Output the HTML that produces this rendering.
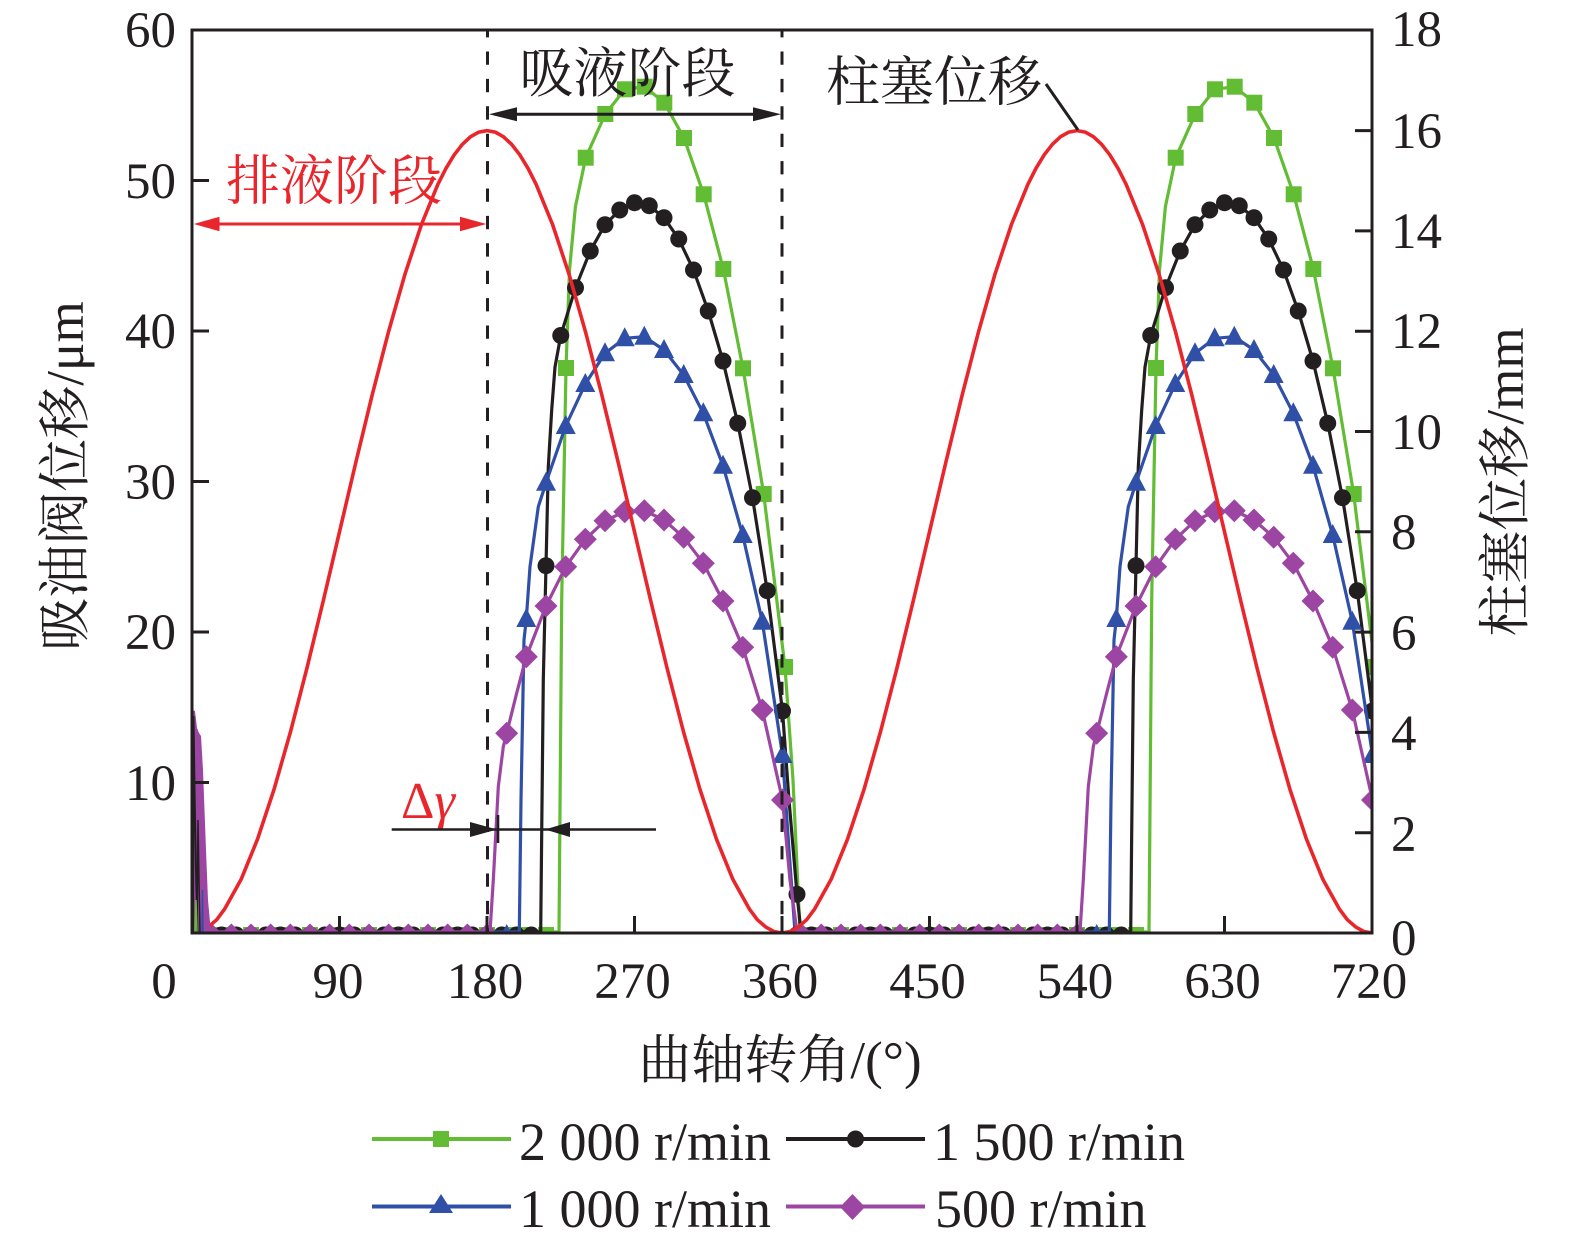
<!DOCTYPE html>
<html><head><meta charset="utf-8"><style>html,body{margin:0;padding:0;background:#fff}svg{display:block}</style></head>
<body>
<svg width="1575" height="1243" viewBox="0 0 1575 1243" xmlns="http://www.w3.org/2000/svg" xmlns:xlink="http://www.w3.org/1999/xlink">
<defs>
<clipPath id="pc"><rect x="192" y="30" width="1180" height="903"/></clipPath>
<rect id="sq" x="-8" y="-8" width="16" height="16" fill="#62bd34"/>
<circle id="ci" r="8.5" fill="#231f20"/>
<path id="tr" d="M0,-11L10,8L-10,8Z" fill="#3050a8"/>
<path id="di" d="M0,-11.5L11.5,0L0,11.5L-11.5,0Z" fill="#9c45a3"/>
<g id="cyc">
 <path d="M205 932 L559 932 L561.7 600 L566 368 L569.5 270 L575.4 206.7 L585.7 157.7 L605.3 114 L625 89.3 L644.7 86.7 L664.3 102.7 L684 138 L703.7 194.3 L723.3 269 L743 368.3 L763.7 494 L785 667 L793 780 L800 932" fill="none" stroke="#62bd34" stroke-width="3.2" stroke-linejoin="round"/>
 <g>
 <use href="#sq" x="211.7" y="935"/><use href="#sq" x="231.3" y="935"/><use href="#sq" x="251" y="935"/><use href="#sq" x="270.7" y="935"/><use href="#sq" x="290.3" y="935"/><use href="#sq" x="310" y="935"/><use href="#sq" x="329.7" y="935"/><use href="#sq" x="349.3" y="935"/><use href="#sq" x="369" y="935"/><use href="#sq" x="388.7" y="935"/><use href="#sq" x="408.3" y="935"/><use href="#sq" x="428" y="935"/><use href="#sq" x="447.7" y="935"/><use href="#sq" x="467.3" y="935"/><use href="#sq" x="487" y="935"/><use href="#sq" x="506.7" y="935"/><use href="#sq" x="526.3" y="935"/><use href="#sq" x="546" y="935"/>
 <use href="#sq" x="566" y="368"/><use href="#sq" x="585.7" y="157.7"/><use href="#sq" x="605.3" y="114"/><use href="#sq" x="625" y="89.3"/><use href="#sq" x="644.7" y="86.7"/><use href="#sq" x="664.3" y="102.7"/><use href="#sq" x="684" y="138"/><use href="#sq" x="703.7" y="194.3"/><use href="#sq" x="723.3" y="269"/><use href="#sq" x="743" y="368.3"/><use href="#sq" x="763.7" y="494"/><use href="#sq" x="785" y="667"/>
 </g>
 <path d="M205 932 L540.7 932 L541.7 833 L543.3 680 L546 565.7 L548.3 466.7 L551.7 410 L555 367 L560.75 335.5 L575.5 287.7 L590.25 251 L605 224.7 L619.75 210 L634.5 202.7 L649.25 205.7 L664 217.7 L678.75 239 L693.5 270 L708.25 311 L723 361 L737.75 423.3 L752.5 497.7 L767.25 590.7 L782.5 711 L789 800 L797 894.3 L801 932" fill="none" stroke="#231f20" stroke-width="3.2" stroke-linejoin="round"/>
 <g>
 <use href="#ci" x="206.75" y="935"/><use href="#ci" x="221.5" y="935"/><use href="#ci" x="236.25" y="935"/><use href="#ci" x="251" y="935"/><use href="#ci" x="265.75" y="935"/><use href="#ci" x="280.5" y="935"/><use href="#ci" x="295.25" y="935"/><use href="#ci" x="310" y="935"/><use href="#ci" x="324.75" y="935"/><use href="#ci" x="339.5" y="935"/><use href="#ci" x="354.25" y="935"/><use href="#ci" x="369" y="935"/><use href="#ci" x="383.75" y="935"/><use href="#ci" x="398.5" y="935"/><use href="#ci" x="413.25" y="935"/><use href="#ci" x="428" y="935"/><use href="#ci" x="442.75" y="935"/><use href="#ci" x="457.5" y="935"/><use href="#ci" x="472.25" y="935"/><use href="#ci" x="487" y="935"/><use href="#ci" x="501.75" y="935"/><use href="#ci" x="516.5" y="935"/><use href="#ci" x="531.25" y="935"/>
 <use href="#ci" x="546" y="565.7"/><use href="#ci" x="560.75" y="335.5"/><use href="#ci" x="575.5" y="287.7"/><use href="#ci" x="590.25" y="251"/><use href="#ci" x="605" y="224.7"/><use href="#ci" x="619.75" y="210"/><use href="#ci" x="634.5" y="202.7"/><use href="#ci" x="649.25" y="205.7"/><use href="#ci" x="664" y="217.7"/><use href="#ci" x="678.75" y="239"/><use href="#ci" x="693.5" y="270"/><use href="#ci" x="708.25" y="311"/><use href="#ci" x="723" y="361"/><use href="#ci" x="737.75" y="423.3"/><use href="#ci" x="752.5" y="497.7"/><use href="#ci" x="767.25" y="590.7"/><use href="#ci" x="782.5" y="711"/><use href="#ci" x="797" y="894.3"/>
 </g>
 <path d="M205 932 L519.3 932 L521 800 L524 640 L526.3 619 L530 566.7 L538.3 506.7 L546 482.7 L565.7 426 L585.3 384 L605 353.3 L624.7 338.3 L644.3 336.7 L664 350 L683.7 375 L703.3 413.3 L723 465.7 L742.7 535 L762.3 621.7 L782.5 755 L789 850 L795 932" fill="none" stroke="#3050a8" stroke-width="3.2" stroke-linejoin="round"/>
 <g>
 <use href="#tr" x="211.7" y="935"/><use href="#tr" x="231.3" y="935"/><use href="#tr" x="251" y="935"/><use href="#tr" x="270.7" y="935"/><use href="#tr" x="290.3" y="935"/><use href="#tr" x="310" y="935"/><use href="#tr" x="329.7" y="935"/><use href="#tr" x="349.3" y="935"/><use href="#tr" x="369" y="935"/><use href="#tr" x="388.7" y="935"/><use href="#tr" x="408.3" y="935"/><use href="#tr" x="428" y="935"/><use href="#tr" x="447.7" y="935"/><use href="#tr" x="467.3" y="935"/><use href="#tr" x="487" y="935"/><use href="#tr" x="506.7" y="935"/>
 <use href="#tr" x="526.3" y="619"/><use href="#tr" x="546" y="482.7"/><use href="#tr" x="565.7" y="426"/><use href="#tr" x="585.3" y="384"/><use href="#tr" x="605" y="353.3"/><use href="#tr" x="624.7" y="338.3"/><use href="#tr" x="644.3" y="336.7"/><use href="#tr" x="664" y="350"/><use href="#tr" x="683.7" y="375"/><use href="#tr" x="703.3" y="413.3"/><use href="#tr" x="723" y="465.7"/><use href="#tr" x="742.7" y="535"/><use href="#tr" x="762.3" y="621.7"/><use href="#tr" x="782.5" y="755"/>
 </g>
 <path d="M205 932 L490 932 L493.3 880 L498.3 786.7 L503.3 746.7 L506.7 733.3 L516.7 693 L526.3 656.7 L546 606 L565.7 566.7 L585.3 539.3 L605 520.7 L624.7 511.7 L644.3 510.7 L664 520 L683.7 537.3 L703.3 563.3 L723 601 L742.7 647.3 L762.3 710 L782.5 800 L790 880 L797 932" fill="none" stroke="#9c45a3" stroke-width="3.2" stroke-linejoin="round"/>
 <g>
 <use href="#di" x="211.7" y="935"/><use href="#di" x="231.3" y="935"/><use href="#di" x="251" y="935"/><use href="#di" x="270.7" y="935"/><use href="#di" x="290.3" y="935"/><use href="#di" x="310" y="935"/><use href="#di" x="329.7" y="935"/><use href="#di" x="349.3" y="935"/><use href="#di" x="369" y="935"/><use href="#di" x="388.7" y="935"/><use href="#di" x="408.3" y="935"/><use href="#di" x="428" y="935"/><use href="#di" x="447.7" y="935"/><use href="#di" x="467.3" y="935"/><use href="#di" x="487" y="935"/>
 <use href="#di" x="506.7" y="733.3"/><use href="#di" x="526.3" y="656.7"/><use href="#di" x="546" y="606"/><use href="#di" x="565.7" y="566.7"/><use href="#di" x="585.3" y="539.3"/><use href="#di" x="605" y="520.7"/><use href="#di" x="624.7" y="511.7"/><use href="#di" x="644.3" y="510.7"/><use href="#di" x="664" y="520"/><use href="#di" x="683.7" y="537.3"/><use href="#di" x="703.3" y="563.3"/><use href="#di" x="723" y="601"/><use href="#di" x="742.7" y="647.3"/><use href="#di" x="762.3" y="710"/><use href="#di" x="782.5" y="800"/>
 </g>
 <path d="M192 933 L200.2 931.5 L208.39 926.9 L216.6 919.8 L224.78 908.8 L241.17 879.3 L257.56 839.1 L273.94 789.7 L290.33 732.4 L306.72 669 L323.11 601.5 L339.5 531.8 L355.89 462.1 L372.28 394.6 L388.67 331.2 L405.06 273.9 L421.44 224.5 L437.83 184.4 L446 168.3 L454.22 154.8 L462.4 144.3 L470.61 136.7 L478.8 132.1 L487 130.6 L495.2 132.1 L503.39 136.7 L511.6 144.3 L519.78 154.8 L528 168.3 L536.17 184.4 L552.56 224.5 L568.94 273.9 L585.33 331.2 L601.72 394.6 L618.11 462.1 L634.5 531.8 L650.89 601.5 L667.28 669 L683.67 732.4 L700.06 789.7 L716.44 839.1 L732.83 879.3 L749.22 908.8 L757.4 919.8 L765.61 926.9 L773.8 931.5 L782 933" fill="none" stroke="#e8262b" stroke-width="3.6" stroke-linejoin="round"/>
</g>
</defs>

<g clip-path="url(#pc)">
 <use href="#cyc"/>
 <use href="#cyc" x="590"/>
 <path d="M192 933 L192 710 L195 711 L197 728 L199 733 L201 736 L203 770 L206 850 L208 900 L211 933 Z" fill="#9c45a3"/>
 <path d="M193 933 L193.5 716 L194.5 790 L196 870 L197.5 933" fill="none" stroke="#231f20" stroke-width="2"/>
 <path d="M197 933 L198 820 L199 880 L200 933" fill="none" stroke="#231f20" stroke-width="1.5"/>
 <path d="M202 933 L202.5 890 L203 933" fill="none" stroke="#3050a8" stroke-width="1.5"/>
 <path d="M195 933 L196 900 L197 933" fill="none" stroke="#62bd34" stroke-width="1.5"/>
</g>

<line x1="487.5" y1="30" x2="487.5" y2="933" stroke="#231f20" stroke-width="3" stroke-dasharray="13.3,14.1" stroke-dashoffset="5.9"/>
<line x1="782" y1="30" x2="782" y2="933" stroke="#231f20" stroke-width="3" stroke-dasharray="13.3,14.1" stroke-dashoffset="5.9"/>

<rect x="192" y="30" width="1180" height="903" fill="none" stroke="#231f20" stroke-width="3"/>
<g stroke="#231f20" stroke-width="3">
 <line x1="192" y1="180.5" x2="209" y2="180.5"/><line x1="192" y1="331" x2="209" y2="331"/><line x1="192" y1="481.5" x2="209" y2="481.5"/><line x1="192" y1="632" x2="209" y2="632"/><line x1="192" y1="782.5" x2="209" y2="782.5"/>
 <line x1="1355" y1="130.6" x2="1372" y2="130.6"/><line x1="1355" y1="230.9" x2="1372" y2="230.9"/><line x1="1355" y1="331.2" x2="1372" y2="331.2"/><line x1="1355" y1="431.5" x2="1372" y2="431.5"/><line x1="1355" y1="531.8" x2="1372" y2="531.8"/><line x1="1355" y1="632.1" x2="1372" y2="632.1"/><line x1="1355" y1="732.4" x2="1372" y2="732.4"/><line x1="1355" y1="832.7" x2="1372" y2="832.7"/>
 <line x1="339.5" y1="916" x2="339.5" y2="933"/><line x1="487" y1="916" x2="487" y2="933"/><line x1="634.5" y1="916" x2="634.5" y2="933"/><line x1="782" y1="916" x2="782" y2="933"/><line x1="929.5" y1="916" x2="929.5" y2="933"/><line x1="1077" y1="916" x2="1077" y2="933"/><line x1="1224.5" y1="916" x2="1224.5" y2="933"/>
</g>

<g font-family="'Liberation Serif', 'Noto Serif CJK SC', serif" font-size="51" fill="#231f20">
 <g text-anchor="end">
  <text x="176" y="47">60</text><text x="176" y="198">50</text><text x="176" y="348">40</text><text x="176" y="499">30</text><text x="176" y="649">20</text><text x="176" y="800">10</text>
 </g>
 <g text-anchor="start">
  <text x="1391" y="46">18</text><text x="1391" y="148">16</text><text x="1391" y="248">14</text><text x="1391" y="348">12</text><text x="1391" y="449">10</text><text x="1391" y="549">8</text><text x="1391" y="650">6</text><text x="1391" y="750">4</text><text x="1391" y="851">2</text><text x="1391" y="955">0</text>
 </g>
 <g text-anchor="middle">
  <text x="164" y="998">0</text><text x="338" y="998">90</text><text x="485" y="998">180</text><text x="632.5" y="998">270</text><text x="780" y="998">360</text><text x="927.5" y="998">450</text><text x="1075" y="998">540</text><text x="1222.5" y="998">630</text><text x="1369" y="998">720</text>
 </g>
</g>

<g font-family="'Liberation Serif', 'Noto Serif CJK SC', serif" font-size="53" fill="#231f20" text-anchor="middle">
 <text transform="translate(83,476) rotate(-90)">吸油阀位移/μm</text>
 <text transform="translate(1523,482) rotate(-90)">柱塞位移/mm</text>
 <text x="780" y="1078">曲轴转角/(°)</text>
</g>

<g font-family="'Liberation Serif', 'Noto Serif CJK SC', serif" font-size="54" text-anchor="middle">
 <text x="627.5" y="92" fill="#231f20">吸液阶段</text>
 <text x="334" y="199.5" fill="#e8262b">排液阶段</text>
 <text x="934" y="100.5" fill="#231f20">柱塞位移</text>
</g>
<line x1="1046" y1="84" x2="1078" y2="130" stroke="#231f20" stroke-width="3"/>

<line x1="505" y1="114.3" x2="765" y2="114.3" stroke="#231f20" stroke-width="3"/>
<polygon points="489,114.3 517,107.3 517,121.3" fill="#231f20"/>
<polygon points="781,114.3 753,107.3 753,121.3" fill="#231f20"/>

<line x1="210" y1="224" x2="470" y2="224" stroke="#e8262b" stroke-width="3"/>
<polygon points="193.8,224 219.5,216.7 219.5,231.3" fill="#e8262b"/>
<polygon points="486.4,224 460,216.7 460,231.3" fill="#e8262b"/>

<text x="401" y="818" font-family="'Liberation Serif', serif" font-size="52" fill="#e8262b">Δ<tspan font-style="italic">γ</tspan></text>
<line x1="391.7" y1="829.5" x2="656" y2="829.5" stroke="#231f20" stroke-width="2.6"/>
<polygon points="497,829.5 470,822 470,837" fill="#231f20"/>
<polygon points="545,829.5 570,822 570,837" fill="#231f20"/>
<line x1="498" y1="815" x2="498" y2="843" stroke="#231f20" stroke-width="2.6"/>

<g font-family="'Liberation Serif', serif" font-size="54" fill="#231f20">
 <line x1="372" y1="1139" x2="511" y2="1139" stroke="#62bd34" stroke-width="4"/>
 <rect x="433" y="1131" width="16" height="16" fill="#62bd34"/>
 <text x="519" y="1160">2 000 r/min</text>
 <line x1="786" y1="1139" x2="925" y2="1139" stroke="#231f20" stroke-width="4"/>
 <circle cx="855.5" cy="1139" r="8.5" fill="#231f20"/>
 <text x="933" y="1160">1 500 r/min</text>
 <line x1="372" y1="1206.5" x2="511" y2="1206.5" stroke="#3050a8" stroke-width="4"/>
 <path d="M441,1194 L453,1213 L429,1213 Z" fill="#3050a8"/>
 <text x="519" y="1227">1 000 r/min</text>
 <line x1="786" y1="1206.5" x2="925" y2="1206.5" stroke="#9c45a3" stroke-width="4"/>
 <path d="M852.5,1194 L865,1207 L852.5,1220 L840,1207 Z" fill="#9c45a3"/>
 <text x="935" y="1227">500 r/min</text>
</g>
</svg>
</body></html>
